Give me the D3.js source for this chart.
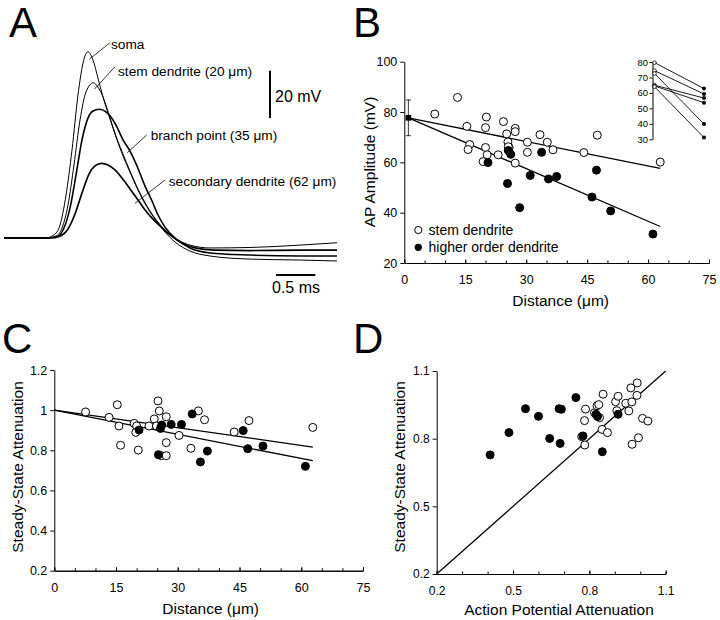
<!DOCTYPE html>
<html><head><meta charset="utf-8">
<script src="https://cdn.jsdelivr.net/npm/d3@7"></script>
<style>
body{margin:0;background:#fff}
svg{display:block}
text{font-family:"Liberation Sans",Arial,Helvetica,sans-serif;fill:#000}
</style>
</head><body>
<svg id="c" width="720" height="620"></svg>
<script>
// ---------- DATA ----------
// Panel A: traces, [time (ms), voltage (mV) relative to rest]
const traceSoma = [[0,0],[0.521,0],[0.635,1.3],[0.712,5.5],[0.788,18.1],[0.864,37.1],[0.940,60.3],[1.004,73.8],[1.067,78.6],[1.131,75.1],[1.194,67.5],[1.258,59.5],[1.347,50.2],[1.436,41.4],[1.512,34.6],[1.601,27.8],[1.690,21.1],[1.766,16.0],[1.855,11.0],[1.944,6.8],[2.046,2.5],[2.173,-1.7],[2.363,-5.5],[2.618,-7.6],[3.126,-8.9],[3.761,-9.3],[4.231,-9.7]];
const traceStem = [[0,0],[0.546,0],[0.661,0.8],[0.737,4.2],[0.813,13.9],[0.889,30.8],[0.966,49.8],[1.042,61.6],[1.135,65.5],[1.194,63.7],[1.258,59.5],[1.347,50.6],[1.436,41.8],[1.512,35.4],[1.601,28.3],[1.690,21.5],[1.766,16.5],[1.855,11.4],[1.944,7.2],[2.046,3.4],[2.173,0],[2.363,-3.0],[2.618,-4.2],[3.126,-4.0],[3.761,-3.0],[4.231,-2.0]];
const traceBranch = [[0,0],[0.559,0],[0.686,0.8],[0.762,4.2],[0.839,12.7],[0.915,26.6],[0.991,41.4],[1.067,50.6],[1.131,53.6],[1.211,54.3],[1.296,53.2],[1.385,49.8],[1.436,46.8],[1.512,41.4],[1.601,36.7],[1.690,30.4],[1.792,21.9],[1.881,15.6],[1.957,9.7],[2.046,4.6],[2.173,0],[2.363,-4.2],[2.618,-6.3],[3.126,-7.2],[3.761,-7.6],[4.231,-7.6]];
const traceSecondary = [[0,0],[0.584,0],[0.712,0.8],[0.813,3.8],[0.902,10.1],[0.991,19.0],[1.080,27.0],[1.156,30.4],[1.241,31.5],[1.321,30.8],[1.410,28.7],[1.499,25.3],[1.601,20.7],[1.703,16.0],[1.792,11.8],[1.881,8.4],[1.982,5.1],[2.109,1.3],[2.236,-1.7],[2.427,-4.2],[2.681,-5.1],[3.126,-5.3],[3.761,-5.1],[4.231,-5.1]];
const traceLabels = ["soma","stem dendrite (20 \u03bcm)","branch point (35 \u03bcm)","secondary dendrite (62 \u03bcm)"];

// Panel B: AP amplitude vs distance
const bStemX = [7.5,13.1,15.4,16.1,15.7,20.2,20.0,20.0,20.4,19.4,23.1,24.4,25.2,25.5,25.8,25.6,27.3,27.3,27.3,30.3,30.3,33.4,35.2,36.6,44.2,47.5,63.0];
const bStemY = [79.2,85.8,74.3,67.1,65.1,78.0,73.8,65.9,63.0,60.3,63.0,76.2,71.3,68.1,65.9,66.2,73.5,72.2,59.7,68.0,64.0,71.0,68.0,65.0,63.9,70.8,60.1];
const bHighX = [20.6,25.4,25.6,26.2,28.4,31.0,33.8,35.5,37.5,46.2,47.3,50.8,61.2];
const bHighY = [59.9,51.6,64.7,63.2,42.0,54.8,64.0,53.4,54.4,46.2,56.9,40.7,31.5];
const bSoma = {x:1, mean:77.7, sd:7.1};
const bFitStem = [[1,77.7],[63,57.6]];
const bFitHigh = [[1,77.7],[63,34.5]];
const bLegend = ["stem dendrite","higher order dendrite"];
// Panel B inset: paired amplitudes
const insetLeft  = [79.6,74.4,72.6,65.0,64.5,64.0];
const insetRight = [62.8,59.3,39.9,56.7,53.7,31.1];
const insetTicks = [30,40,50,60,70,80];

// Panel C: steady-state attenuation vs distance
const cStemX = [7.6,13.3,15.3,15.7,16.1,19.4,20.0,19.8,20.4,23.0,24.3,24.8,25.2,25.5,26.0,27.2,27.2,27.2,30.3,33.2,35.0,36.5,43.7,47.3,62.8];
const cStemY = [0.991,0.964,1.027,0.921,0.825,0.934,0.921,0.889,0.801,0.921,0.956,0.921,1.046,0.996,0.773,0.967,0.838,0.773,0.874,0.810,0.996,0.952,0.891,0.948,0.914];
const cHighX = [20.6,25.3,25.8,26.1,28.4,30.9,33.5,35.5,37.2,45.9,47.0,50.7,61.0];
const cHighY = [0.901,0.778,0.909,0.926,0.929,0.929,0.981,0.742,0.796,0.898,0.808,0.821,0.720];
const cFitStem = [[0,1.0],[62.8,0.816]];
const cFitHigh = [[0,1.0],[62.8,0.748]];

// Panel D: steady-state vs AP attenuation
const dHighX = [0.410,0.484,0.549,0.600,0.644,0.681,0.690,0.685,0.747,0.775,0.826,0.832,0.851,0.913];
const dHighY = [0.728,0.827,0.933,0.899,0.801,0.933,0.930,0.779,0.982,0.812,0.908,0.898,0.742,0.908];
const dStemX = [0.770,0.782,0.785,0.781,0.820,0.830,0.837,0.840,0.850,0.854,0.871,0.903,0.913,0.908,0.943,0.955,0.963,0.967,0.968,0.988,0.987,0.993,1.009,1.030];
const dStemY = [0.809,0.772,0.931,0.880,0.915,0.946,0.951,0.893,0.841,0.997,0.827,0.964,0.988,0.924,0.957,0.923,1.025,0.963,0.775,1.047,0.992,0.804,0.890,0.878];
const dIdentity = [[0.2,0.2],[1.1,1.1]];

// Tick labels
const bXTicks = [0,15,30,45,60,75];
const bYTicks = [20,40,60,80,100];
const cYTicks = [0.2,0.4,0.6,0.8,1,1.2];
const cYLabels = ["0.2","0.4","0.6","0.8","1","1.2"];
const dTicks = [0.2,0.5,0.8,1.1];
const dLabels = ["0.2","0.5","0.8","1.1"];

// ---------- DRAW ----------
const svg = d3.select("#c");
const FONT_T = 15.5, FONT_K = 12.5;

function panelLetter(txt, x, y){
  svg.append("text").attr("x",x).attr("y",y).attr("font-size",42).text(txt);
}
panelLetter("A",9,36.5); panelLetter("B",353,36.5); panelLetter("C",2,353); panelLetter("D",353,353);

function styleAxis(g, fs){
  g.selectAll("path.domain").attr("stroke","#000").attr("stroke-width",1);
  g.selectAll(".tick line").attr("stroke","#000").attr("stroke-width",1);
  g.selectAll("text").attr("font-size",fs).attr("font-family","'Liberation Sans',Arial,sans-serif").attr("fill","#000");
}
function drawAxes(x, y, xMaj, xLab, xMin, yMaj, yLab, yMin, fs){
  const x0 = x.range()[0], y0 = y.range()[0];
  const gx = svg.append("g").attr("transform",`translate(0,${y0})`);
  const gxMin = gx.append("g").call(d3.axisBottom(x).tickValues(xMin).tickSize(0).tickSizeOuter(0).tickFormat(""));
  gxMin.selectAll(".tick line").attr("y1",0).attr("y2",-2.5);
  const gxMaj = gx.append("g").call(d3.axisBottom(x).tickValues(xMaj).tickSize(4).tickSizeOuter(0).tickPadding(8).tickFormat((d,i)=>xLab[i]));
  gxMaj.selectAll(".tick line").attr("y1",0).attr("y2",-3.5);
  styleAxis(gx, fs);
  const gy = svg.append("g").attr("transform",`translate(${x0},0)`);
  gy.call(d3.axisLeft(y).tickValues(yMin).tickSize(2.5).tickSizeOuter(0).tickFormat(""));
  gy.call(d3.axisLeft(y).tickValues(yMaj).tickSize(4).tickSizeOuter(0).tickPadding(3).tickFormat((d,i)=>yLab[i]));
  styleAxis(gy, fs);
}
function scatter(x, y, xs, ys, filled, r){
  svg.append("g").selectAll("circle").data(xs.map((v,i)=>[v,ys[i]])).join("circle")
    .attr("cx",d=>x(d[0])).attr("cy",d=>y(d[1])).attr("r",r||4)
    .attr("fill",filled?"#000":"#fff").attr("stroke","#000").attr("stroke-width",1);
}
function fitLine(x, y, pts, w){
  svg.append("path").attr("d",d3.line().x(d=>x(d[0])).y(d=>y(d[1]))(pts))
    .attr("fill","none").attr("stroke","#000").attr("stroke-width",w||1.3);
}

// ----- Panel A -----
{
  const x = d3.scaleLinear([0,1],[4,82.7]);
  const y = d3.scaleLinear([0,20],[238,190.6]);
  const line = d3.line().x(d=>x(d[0])).y(d=>y(d[1])).curve(d3.curveMonotoneX);
  const traces = [[traceSoma,1],[traceStem,1],[traceBranch,1.6],[traceSecondary,1.7]];
  traces.forEach(([t,w])=>{
    svg.append("path").attr("d",line(t)).attr("fill","none").attr("stroke","#000").attr("stroke-width",w);
  });
  const ann = [
    {tx:111,ty:48.5,x1:110,y1:42.7,x2:89.3,y2:59.3},
    {tx:118,ty:76,x1:115,y1:66.7,x2:94.3,y2:89.3},
    {tx:150.7,ty:140,x1:146.7,y1:135,x2:127.3,y2:152.7},
    {tx:168.7,ty:186,x1:165,y1:180,x2:135,y2:203.3}
  ];
  ann.forEach((a,i)=>{
    svg.append("line").attr("x1",a.x1).attr("y1",a.y1).attr("x2",a.x2).attr("y2",a.y2).attr("stroke","#000").attr("stroke-width",0.8);
    svg.append("text").attr("x",a.tx).attr("y",a.ty).attr("font-size",13.7).text(traceLabels[i]);
  });
  svg.append("line").attr("x1",x(3.38)).attr("x2",x(3.38)).attr("y1",y(50.6)).attr("y2",y(70.6)).attr("stroke","#000").attr("stroke-width",2);
  svg.append("text").attr("x",275).attr("y",102).attr("font-size",16).text("20 mV");
  svg.append("line").attr("x1",x(3.456)).attr("x2",x(3.956)).attr("y1",y(-15.6)).attr("y2",y(-15.6)).attr("stroke","#000").attr("stroke-width",2);
  svg.append("text").attr("x",272).attr("y",293).attr("font-size",16).text("0.5 ms");
}

// ----- Panel B -----
{
  const x = d3.scaleLinear([0,75],[404.3,709]);
  const y = d3.scaleLinear([20,100],[263,61.7]);
  drawAxes(x,y,bXTicks,bXTicks.map(String),d3.range(0,76,5),bYTicks,bYTicks.map(String),d3.range(20,101,10),FONT_K);
  fitLine(x,y,bFitStem); fitLine(x,y,bFitHigh);
  const sx = x(bSoma.x);
  svg.append("line").attr("x1",sx).attr("x2",sx).attr("y1",y(bSoma.mean-bSoma.sd)).attr("y2",y(bSoma.mean+bSoma.sd)).attr("stroke","#000").attr("stroke-width",0.8);
  [bSoma.mean-bSoma.sd,bSoma.mean+bSoma.sd].forEach(v=>{
    svg.append("line").attr("x1",sx-2.5).attr("x2",sx+2.5).attr("y1",y(v)).attr("y2",y(v)).attr("stroke","#000").attr("stroke-width",0.8);
  });
  svg.append("rect").attr("x",sx-2.8).attr("y",y(bSoma.mean)-2.8).attr("width",5.6).attr("height",5.6).attr("fill","#000");
  scatter(x,y,bStemX,bStemY,false);
  scatter(x,y,bHighX,bHighY,true);
  svg.append("circle").attr("cx",418.3).attr("cy",230).attr("r",3.6).attr("fill","#fff").attr("stroke","#000");
  svg.append("text").attr("x",428.5).attr("y",235).attr("font-size",14).text(bLegend[0]);
  svg.append("circle").attr("cx",418.3).attr("cy",247.3).attr("r",3.6).attr("fill","#000");
  svg.append("text").attr("x",428.5).attr("y",252.3).attr("font-size",14).text(bLegend[1]);
  svg.append("text").attr("x",(404.3+709)/2+4).attr("y",306).attr("text-anchor","middle").attr("font-size",FONT_T).text("Distance (\u03bcm)");
  svg.append("text").attr("transform","translate(375,162) rotate(-90)").attr("text-anchor","middle").attr("font-size",FONT_T).text("AP Amplitude (mV)");
  // inset
  const iy = d3.scaleLinear([30,80],[139.3,62]);
  const ix = d3.scalePoint(["prox","dist"],[654.5,704]);
  const ga = svg.append("g").attr("transform","translate(652.5,0)");
  ga.call(d3.axisLeft(iy).tickValues(insetTicks).tickSize(3).tickSizeOuter(0).tickPadding(1.5));
  styleAxis(ga,9.5);
  insetLeft.forEach((v,i)=>{
    svg.append("line").attr("x1",ix("prox")).attr("y1",iy(v)).attr("x2",ix("dist")).attr("y2",iy(insetRight[i])).attr("stroke","#000").attr("stroke-width",0.9);
  });
  insetLeft.forEach(v=>svg.append("circle").attr("cx",ix("prox")).attr("cy",iy(v)).attr("r",1.8).attr("fill","#fff").attr("stroke","#000").attr("stroke-width",0.8));
  insetRight.forEach(v=>svg.append("circle").attr("cx",ix("dist")).attr("cy",iy(v)).attr("r",2).attr("fill","#000"));
}

// ----- Panel C -----
{
  const x = d3.scaleLinear([0,75],[54.3,363]);
  const y = d3.scaleLinear([0.2,1.2],[570.7,370]);
  drawAxes(x,y,bXTicks,bXTicks.map(String),d3.range(0,76,5),cYTicks,cYLabels,d3.range(2,13).map(d=>d/10),FONT_K);
  fitLine(x,y,cFitStem); fitLine(x,y,cFitHigh);
  scatter(x,y,cStemX,cStemY,false);
  scatter(x,y,cHighX,cHighY,true);
  svg.append("text").attr("x",(54.3+363)/2+2).attr("y",614).attr("text-anchor","middle").attr("font-size",FONT_T).text("Distance (\u03bcm)");
  svg.append("text").attr("transform","translate(23,467) rotate(-90)").attr("text-anchor","middle").attr("font-size",FONT_T).text("Steady-State Attenuation");
}

// ----- Panel D -----
{
  const x = d3.scaleLinear([0.2,1.1],[436.7,665.7]);
  const y = d3.scaleLinear([0.2,1.1],[574,371]);
  const minor = d3.range(2,12).map(d=>d/10);
  drawAxes(x,y,dTicks,dLabels,minor,dTicks,dLabels,minor,12);
  fitLine(x,y,dIdentity);
  scatter(x,y,dStemX,dStemY,false);
  scatter(x,y,dHighX,dHighY,true);
  svg.append("text").attr("x",559).attr("y",615).attr("text-anchor","middle").attr("font-size",FONT_T).text("Action Potential Attenuation");
  svg.append("text").attr("transform","translate(405,467) rotate(-90)").attr("text-anchor","middle").attr("font-size",FONT_T).text("Steady-State Attenuation");
}
</script>
</body></html>
